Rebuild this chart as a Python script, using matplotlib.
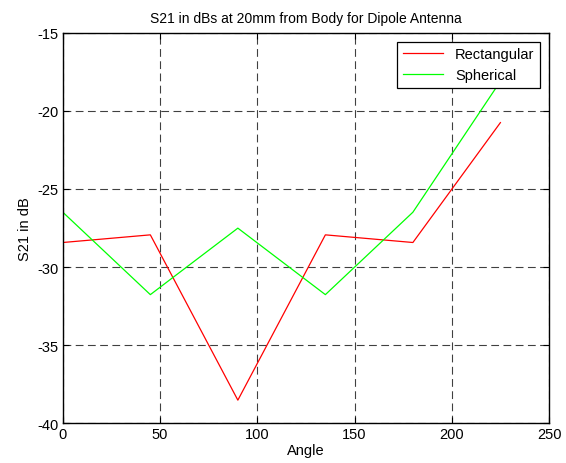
import matplotlib
matplotlib.use('Agg')
import matplotlib.pyplot as plt

angles = [0, 45, 90, 135, 180, 225]
s21_rectangular = [-28.43, -27.94, -38.53, -27.94, -28.43, -20.75]
s21_spherical = [-26.49, -31.77, -27.51, -31.77, -26.49, -18.1]

plt.rcParams['font.family'] = ['Liberation Sans', 'DejaVu Sans']
plt.rcParams['axes.unicode_minus'] = False

fig = plt.figure(figsize=(5.66, 4.64), dpi=100)
ax = fig.add_axes([0.111, 0.086, 0.859, 0.841])

ax.plot(angles, s21_rectangular, color='red', linewidth=0.9, label='Rectangular')
ax.plot(angles, s21_spherical, color='#00ff00', linewidth=0.9, label='Spherical')

ax.set_xlim(0, 250)
ax.set_ylim(-40, -15)
ax.set_xticks([0, 50, 100, 150, 200, 250])
ax.set_yticks([-40, -35, -30, -25, -20, -15])

ax.grid(True, color='black', linestyle=(0, (7, 4)), linewidth=0.8, alpha=0.75)
ax.tick_params(direction='in', length=4, labelsize=10.5, width=0.8, pad=3)
ax.tick_params(top=True, right=True)
for spine in ax.spines.values():
    spine.set_linewidth(1.0)

ax.set_xlabel('Angle', fontsize=10.5, labelpad=1)
ax.set_ylabel('S21 in dB', fontsize=10.5, labelpad=4)
ax.set_title('S21 in dBs at 20mm from Body for Dipole Antenna', fontsize=10, pad=8)

leg = ax.legend(loc='upper right', fontsize=10.5, fancybox=False, framealpha=1,
                edgecolor='black', borderaxespad=0.6, handlelength=2.8,
                labelspacing=0.45)
leg.get_frame().set_linewidth(0.9)

fig.savefig('out.png', dpi=100)
